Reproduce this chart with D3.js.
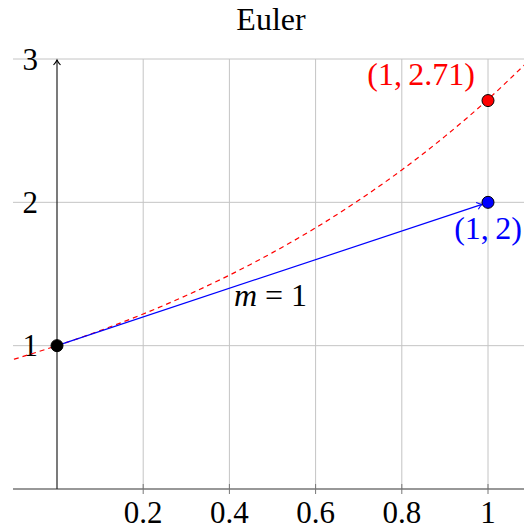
<!DOCTYPE html>
<html>
<head>
<meta charset="utf-8">
<script src="https://cdn.jsdelivr.net/npm/d3@7"></script>
<style>
  body { margin: 0; background: #fff; }
</style>
</head>
<body>
<div id="chart"></div>
<script>
// chart values
const xTicks = [0.2, 0.4, 0.6, 0.8, 1];
const yTicks = [1, 2, 3];
const curveX = [-0.1, 0, 0.1, 0.2, 0.3, 0.4, 0.5, 0.6, 0.7, 0.8, 0.9, 1.0, 1.1];
const curveY = [0.905, 1.0, 1.105, 1.221, 1.35, 1.492, 1.649, 1.822, 2.014, 2.226, 2.46, 2.718, 3.004];
const stepX = [0, 1];
const stepY = [1, 2];
const dotX = [0, 1, 1];
const dotY = [1, 2, 2.71];
const dotColor = ["black", "blue", "red"];

const W = 524, H = 531;
const FONT = "'Liberation Serif', 'DejaVu Serif', serif";

let svg = d3.select("#chart").append("svg")
    .attr("width", W)
    .attr("height", H)
    .style("font-family", FONT);

let x = d3.scaleLinear().domain([0, 1]).range([57, 488]);
let y = d3.scaleLinear().domain([0, 3]).range([489, 59]);
let xMin = x.invert(13);

let defs = svg.append("defs");
function arrow(id, color) {
    defs.append("marker")
        .attr("id", id)
        .attr("viewBox", "-6 -5 8 10")
        .attr("markerWidth", 8).attr("markerHeight", 10)
        .attr("markerUnits", "userSpaceOnUse")
        .attr("refX", 0).attr("refY", 0)
        .attr("orient", "auto")
        .append("path")
        .attr("d", "M-5,-3.5 Q-2,-0.8 0,0 Q-2,0.8 -5,3.5")
        .attr("fill", "none")
        .attr("stroke", color)
        .attr("stroke-width", 1.1);
}
arrow("arrBlack", "black");
arrow("arrBlue", "blue");

defs.append("clipPath").attr("id", "clip")
    .append("rect").attr("x", 0).attr("y", 0).attr("width", W).attr("height", 489);

// grid
svg.append("g").selectAll("line").data(xTicks).join("line")
    .attr("x1", d => x(d)).attr("x2", d => x(d))
    .attr("y1", y(3)).attr("y2", y(0))
    .attr("stroke", "#c4c4c4").attr("stroke-width", 1);
svg.append("g").selectAll("line").data(yTicks).join("line")
    .attr("x1", x(xMin)).attr("x2", W)
    .attr("y1", d => y(d)).attr("y2", d => y(d))
    .attr("stroke", "#c4c4c4").attr("stroke-width", 1);

// axes
svg.append("line")
    .attr("x1", x(xMin)).attr("x2", W + 10)
    .attr("y1", y(0)).attr("y2", y(0))
    .attr("stroke", "#333").attr("stroke-width", 1.2);
svg.append("g").selectAll("line").data(xTicks).join("line")
    .attr("x1", d => x(d)).attr("x2", d => x(d))
    .attr("y1", y(0) - 5).attr("y2", y(0) + 5)
    .attr("stroke", "#777").attr("stroke-width", 1);
svg.append("line")
    .attr("x1", x(0)).attr("x2", x(0))
    .attr("y1", y(0)).attr("y2", y(3) + 1)
    .attr("stroke", "#222").attr("stroke-width", 1.2)
    .attr("marker-end", "url(#arrBlack)");

// tick labels
svg.append("g").selectAll("text").data(xTicks).join("text")
    .attr("x", d => x(d)).attr("y", 523)
    .attr("text-anchor", "middle")
    .style("font-size", "31px")
    .text(d => d3.format("~g")(d));
svg.append("g").selectAll("text").data(yTicks).join("text")
    .attr("x", 38).attr("y", d => y(d))
    .attr("dy", "0.34em")
    .attr("text-anchor", "end")
    .style("font-size", "31px")
    .text(d => d);

// exact solution, dashed
let curve = curveX.map((d, i) => [d, curveY[i]]);
svg.append("path")
    .datum(curve)
    .attr("clip-path", "url(#clip)")
    .attr("d", d3.line().x(d => x(d[0])).y(d => y(d[1])).curve(d3.curveNatural))
    .attr("fill", "none")
    .attr("stroke", "red")
    .attr("stroke-width", 1.2)
    .attr("stroke-dasharray", "5,4");

// euler step
svg.append("line")
    .attr("x1", x(stepX[0])).attr("y1", y(stepY[0]))
    .attr("x2", x(stepX[1]) - 6).attr("y2", y(stepY[1]) + 2)
    .attr("stroke", "blue").attr("stroke-width", 1.2)
    .attr("marker-end", "url(#arrBlue)");

// points
svg.append("g").selectAll("circle").data(dotX).join("circle")
    .attr("cx", d => x(d))
    .attr("cy", (d, i) => y(dotY[i]))
    .attr("r", 6)
    .attr("fill", (d, i) => dotColor[i])
    .attr("stroke", "black")
    .attr("stroke-width", 1);

// labels
svg.append("text")
    .attr("x", x(1) - 13).attr("y", y(dotY[2]) - 16)
    .attr("text-anchor", "end")
    .attr("fill", "red")
    .style("font-size", "32px")
    .text("(1,\u20092.71)");
svg.append("text")
    .attr("x", x(1)).attr("y", y(dotY[1]) + 37)
    .attr("text-anchor", "middle")
    .attr("fill", "blue")
    .style("font-size", "32px")
    .text("(1,\u20092)");
let mLabel = svg.append("text")
    .attr("x", x(0.5) - 2).attr("y", 306)
    .attr("text-anchor", "middle")
    .style("font-size", "32px");
mLabel.append("tspan").style("font-style", "italic").text("m");
mLabel.append("tspan").text(" = 1");

// title
svg.append("text")
    .attr("x", 271).attr("y", 30)
    .attr("text-anchor", "middle")
    .style("font-size", "32px")
    .text("Euler");
</script>
</body>
</html>
